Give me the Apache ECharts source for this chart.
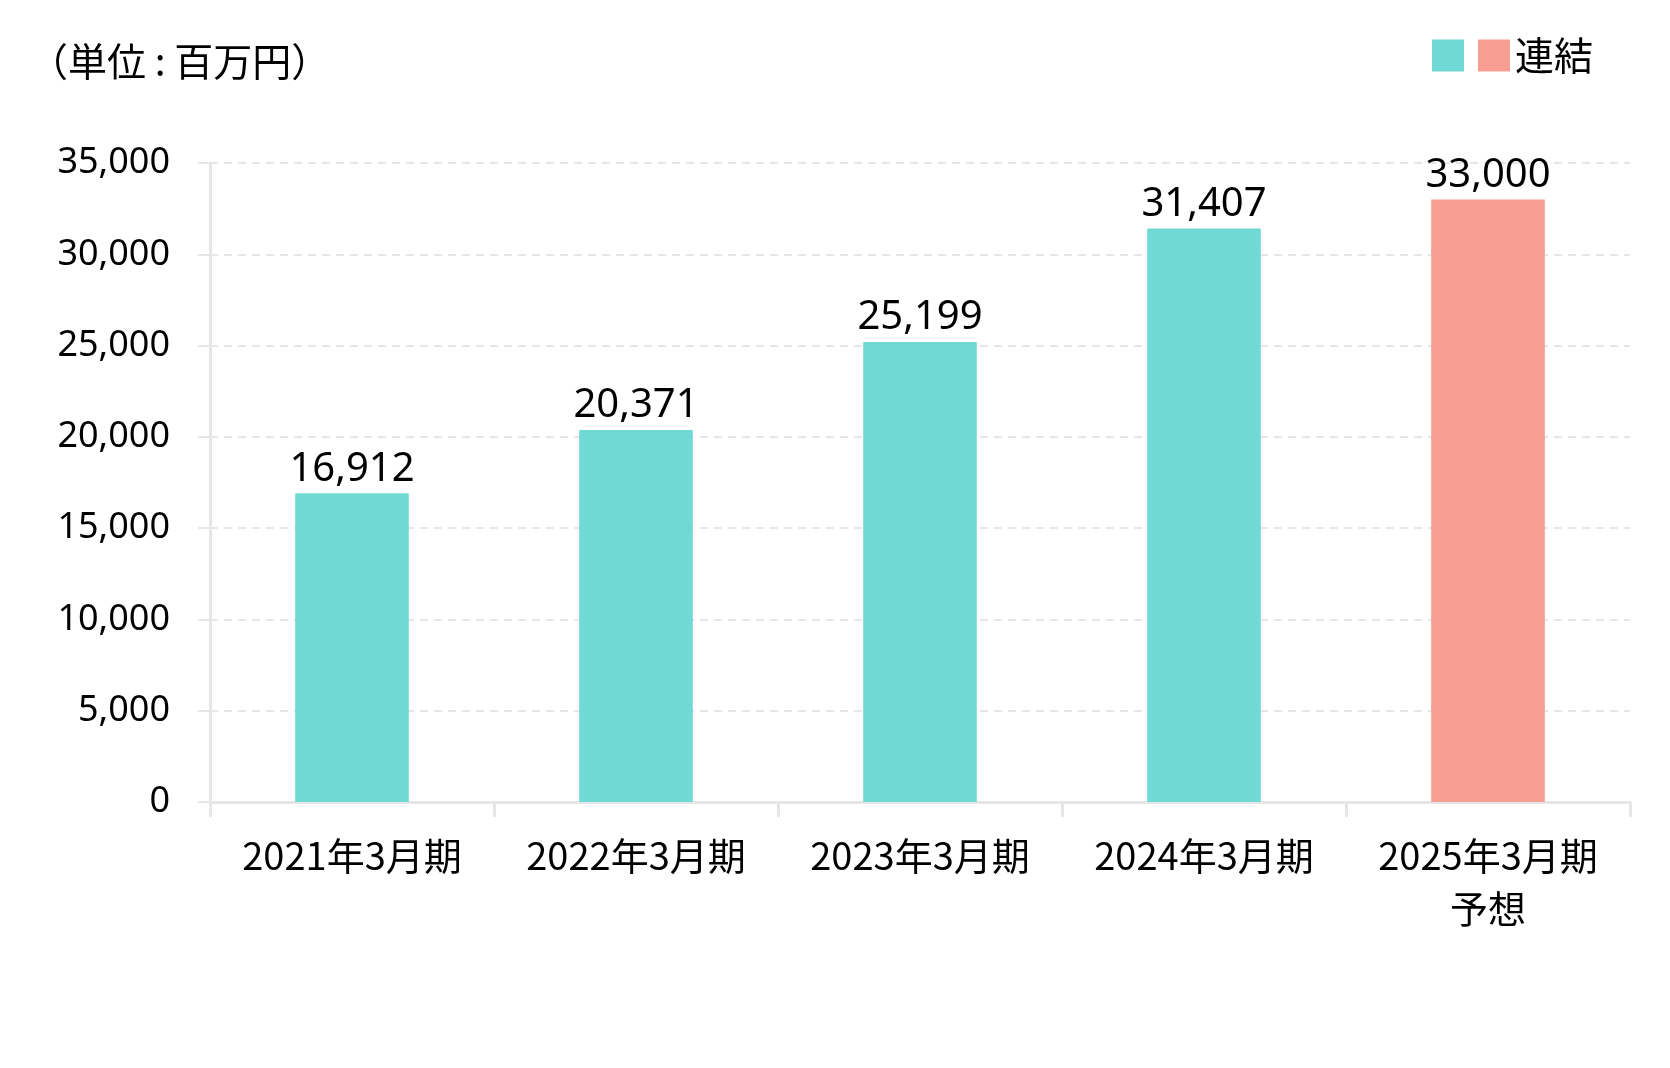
<!DOCTYPE html>
<html>
<head>
<meta charset="utf-8">
<script src="https://cdn.jsdelivr.net/npm/echarts@6/dist/echarts.min.js"></script>
<style>
html,body{margin:0;padding:0;background:#fff;}
#c{width:1670px;height:1068px;}
</style>
</head>
<body>
<div id="c"></div>
<script>
const categories = ['2021年3月期', '2022年3月期', '2023年3月期', '2024年3月期', '2025年3月期\n予想'];
const actualValues = [16912, 20371, 25199, 31407, '-'];
const forecastValues = ['-', '-', '-', '-', 33000];
const seriesNames = ['実績', '連結'];
const yTicks = { min: 0, max: 35000, interval: 5000 };
const unitLabel = '（単位 : 百万円）';

const chart = echarts.init(document.getElementById('c'));
const numFont = '"Noto Sans", "Noto Sans CJK JP", sans-serif';
const jpFont = '"Noto Sans CJK JP", "Noto Sans", sans-serif';

chart.setOption({
  animation: false,
  backgroundColor: '#ffffff',
  grid: { left: 210, right: 40, top: 163, bottom: 266, containLabel: false },
  graphic: [{
    type: 'text', left: 29, top: 42,
    style: { text: unitLabel, font: '39px ' + jpFont, fill: '#000' }
  }],
  legend: {
    right: 72, top: 31,
    itemWidth: 32, itemHeight: 32, itemGap: 14,
    icon: 'rect',
    data: seriesNames,
    formatter: function (n) { return n === '連結' ? n : ''; },
    textStyle: { fontFamily: jpFont, fontSize: 39, color: '#000' }
  },
  xAxis: {
    type: 'category',
    data: categories,
    axisLine: { show: true, lineStyle: { color: '#e6e6e6', width: 3 } },
    axisTick: { show: true, length: 15, lineStyle: { color: '#e6e6e6', width: 3 } },
    axisLabel: { color: '#000', fontFamily: jpFont, fontSize: 38, margin: 27, lineHeight: 53, interval: 0 }
  },
  yAxis: {
    type: 'value',
    min: yTicks.min, max: yTicks.max, interval: yTicks.interval,
    axisLine: { show: true, lineStyle: { color: '#e6e6e6', width: 3 } },
    axisTick: { show: true, length: 12, lineStyle: { color: '#e6e6e6', width: 2 } },
    axisLabel: {
      color: '#000', fontFamily: numFont, fontSize: 36, margin: 40,
      formatter: function (v) { return v.toLocaleString('en-US'); }
    },
    splitLine: { show: true, lineStyle: { color: '#e6e6e6', width: 2, type: [8, 6] } }
  },
  series: [
    {
      name: seriesNames[0], type: 'bar', data: actualValues,
      barWidth: '40%', barGap: '-100%',
      itemStyle: { color: '#70D9D4' },
      label: { show: true, position: 'top', distance: 4, color: '#000', fontFamily: numFont, fontSize: 40,
        formatter: function (p) { return Number(p.value).toLocaleString('en-US'); } }
    },
    {
      name: seriesNames[1], type: 'bar', data: forecastValues,
      barWidth: '40%', barGap: '-100%',
      itemStyle: { color: '#F79D92' },
      label: { show: true, position: 'top', distance: 4, color: '#000', fontFamily: numFont, fontSize: 40,
        formatter: function (p) { return Number(p.value).toLocaleString('en-US'); } }
    }
  ]
});
</script>
</body>
</html>
